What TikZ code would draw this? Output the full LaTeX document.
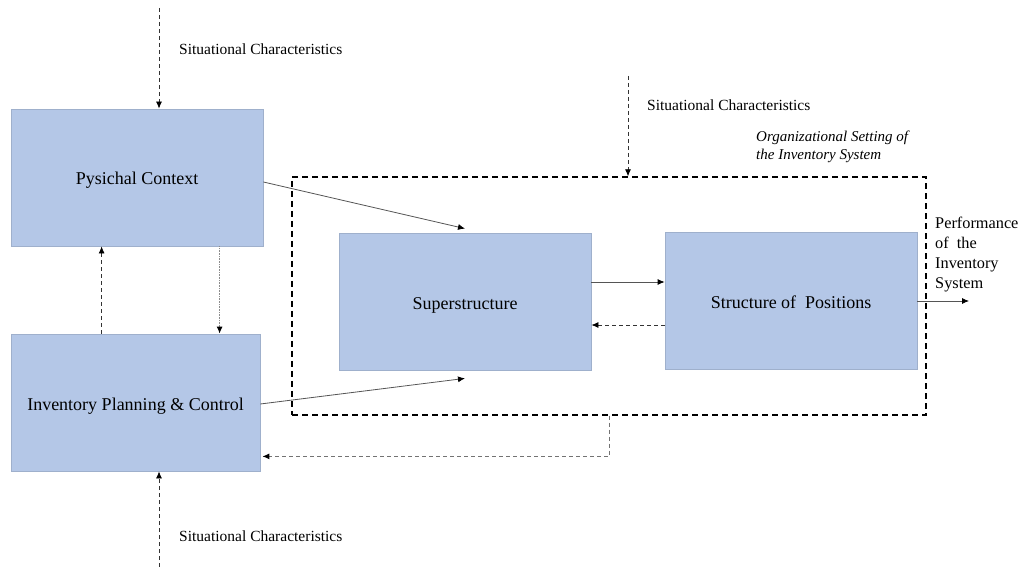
\documentclass[tikz,border=0pt]{standalone}
\usepackage{fontspec}
\setmainfont{Liberation Serif}
\usetikzlibrary{arrows.meta,calc}
\definecolor{boxfill}{HTML}{B4C7E7}
\definecolor{boxline}{HTML}{9FB0CC}
\definecolor{linegray}{HTML}{555555}
\begin{document}
\begin{tikzpicture}[x=1pt,y=-1pt,
  block/.style={draw=boxline,line width=0.8pt,fill=boxfill,minimum width=252pt,minimum height=137pt,inner sep=0pt,text height=19pt,text depth=4pt,font=\fontsize{18}{21}\selectfont},
  tip/.style={-{Latex[length=7pt,width=6pt,color=black]}},
  solidarrow/.style={tip,draw=linegray,line width=0.8pt},
  dasharrow/.style={tip,draw=black!80,line width=0.8pt,dash pattern=on 4pt off 3pt},
  dotarrow/.style={tip,draw=black!45,line width=1pt,dash pattern=on 1pt off 0.6pt},
  grayarrow/.style={tip,draw=black!55,line width=1pt,dash pattern=on 4pt off 3pt},
  frame/.style={draw=black,line width=1.3pt,dash pattern=on 6pt off 4pt,minimum width=634pt,minimum height=238pt,inner sep=0pt},
  lbl/.style={font=\fontsize{15.5}{18}\selectfont,anchor=west,inner sep=0pt},
  ilbl/.style={font=\fontsize{15}{18}\selectfont\itshape,align=left,anchor=west,inner sep=0pt},
  plbl/.style={font=\fontsize{16.3}{20}\selectfont,align=left,anchor=north west,inner sep=0pt}]
\useasboundingbox (0,0) rectangle (1021,567);

% organisational setting frame
\node[frame] (C) at (609,296) {};

% blocks
\node[block] (P) at (137,177.5) {Pysichal Context};
\node[block,minimum width=249pt] (I) at (135.5,402.5) {Inventory Planning \& Control};
\node[block] (S) at (465,301.5) {Superstructure};
\node[block] (T) at (791,300.5) {Structure of\ \ Positions};

% text labels
\node[lbl] (l1) at (179,49) {Situational Characteristics};
\node[lbl] (l2) at (647,105) {Situational Characteristics};
\node[lbl] (l3) at (179,536) {Situational Characteristics};
\node[ilbl] (l4) at (756,147) {Organizational Setting of\\the Inventory System};
\node[plbl] (l5) at (935,217) {Performance\\of\ \ the\\Inventory\\System};

% free ends
\coordinate (s1) at (159,8);
\coordinate (s2) at (628,76);
\coordinate (s3) at (159,567);
\coordinate (out) at (969,301);

% situational inputs
\draw[dasharrow] (s1) -- (s1 |- P.north);
\draw[dasharrow] (s2) -- (s2 |- C.north);
\draw[dasharrow] (s3) -- (s3 |- I.south);

% flows into the superstructure
\draw[solidarrow] ($(P.east)+(0,4.5)$) -- ($(S.north)+(0,-4)$);
\draw[solidarrow] ($(I.east)+(0,1.5)$) -- ($(S.south)+(0,8)$);

% links between the two left blocks
\draw[dasharrow] ($(I.north west)+(91,0)$) -- ($(P.south west)+(91,0)$);
\draw[dotarrow] ($(P.south west)+(209,0)$) -- ($(I.north west)+(209,0)$);

% links between superstructure and structure of positions
\draw[solidarrow] ($(S.east)+(0,-19.5)$) -- ($(T.west)+(0,-18.5)$);
\draw[dasharrow] ($(T.west)+(0,24.5)$) -- ($(S.east)+(0,23.5)$);

% output and feedback
\draw[solidarrow] (T.east |- out) -- (out);
\draw[grayarrow] (C.south) |- ($(I.south east)+(2,-15)$);
\end{tikzpicture}
\end{document}
